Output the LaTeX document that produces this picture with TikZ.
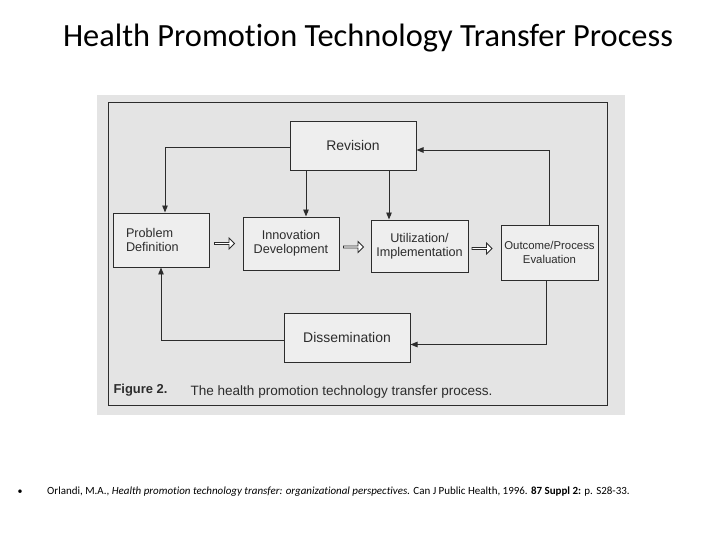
\documentclass[tikz,border=0pt]{standalone}
\usepackage{fontspec}
\setmainfont{Carlito}[Ligatures={NoCommon}]
\newfontfamily\arialf{Liberation Sans}
\usetikzlibrary{shapes.arrows,arrows.meta,calc}
\definecolor{scan}{HTML}{E4E4E4}
\definecolor{boxfill}{HTML}{EEEEEE}
\definecolor{ink}{HTML}{2C2C2C}
\begin{document}
\begin{tikzpicture}[x=1bp,y=-1bp,
 box/.style={draw=ink, line width=1pt, fill=boxfill, text=ink, font=\arialf\fontsize{12.7}{14.5}\selectfont, align=center, inner sep=0pt},
 bigbox/.style={box, font=\arialf\fontsize{14}{16}\selectfont},
 link/.style={draw=ink, line width=1pt, -{Triangle[length=7bp,width=5.5bp]}},
 hollow/.style={single arrow, draw=ink, line width=0.8pt, fill=white, minimum height=20bp, minimum width=11bp, single arrow head extend=2bp, inner sep=0pt},
]
\useasboundingbox (0,0) rectangle (720,540);
\fill[white] (0,0) rectangle (720,540);
\fill[scan] (97,95) rectangle (625,415);
\draw[ink, line width=1pt] (108,103) rectangle (607,405);

\node[font=\fontsize{32.5}{36}\selectfont] (title) at (368,38) {Health Promotion Technology Transfer Process};

\node[bigbox, minimum width=126bp, minimum height=48bp] (rev) at (353,146) {Revision};
\node[box, text width=70bp, inner xsep=13bp, minimum height=54bp, align=left] (prob) at (161,240) {Problem\\Definition};
\node[box, minimum width=96bp, minimum height=53bp] (inno) at (291,243.5) {Innovation\\Development};
\node[box, minimum width=97bp, minimum height=52bp] (util) at (419.5,246) {Utilization/\\Implementation};
\node[box, minimum width=97bp, minimum height=55bp, font=\arialf\fontsize{11.4}{14}\selectfont] (outc) at (549.5,252.5) {Outcome/Process\\Evaluation};
\node[bigbox, minimum width=126bp, minimum height=49bp] (dis) at (347,337.5) {Dissemination};

\node[hollow] (h1) at (224,243.5) {};
\node[hollow] (h2) at (353,247) {};
\node[hollow] (h3) at (481.5,248.5) {};

\coordinate (r1) at ($(rev.south)+(-47,0)$);
\coordinate (r2) at ($(rev.south)+(36,0)$);
\draw[link] ($(rev.west)+(0,1)$) -| ($(prob.north)+(4,0)$);
\draw[link] (r1) -- (r1 |- inno.north);
\draw[link] (r2) -- (r2 |- util.north);
\draw[link] (outc.north) |- ($(rev.east)+(0,4)$);
\draw[link] ($(outc.south)+(-3,0)$) |- ($(dis.east)+(0,7)$);
\draw[link] ($(dis.west)+(0,3)$) -| (prob.south);

\node[anchor=base west, text=ink, font=\arialf\bfseries\fontsize{13}{15}\selectfont] (fig) at (110,393) {Figure 2.};
\node[anchor=base west, text=ink, font=\arialf\fontsize{13.6}{15}\selectfont] (cap) at (187,395) {The health promotion technology transfer process.};

\node[font=\fontsize{10}{11}\selectfont] (bul) at (20,492) {\textbullet};
\node[anchor=west, inner sep=0pt, font=\fontsize{11}{12}\selectfont] (cite) at (47,492) {Orlandi, M.A., \textit{Health promotion technology transfer: organizational perspectives.} Can J Public Health, 1996. \textbf{87 Suppl 2:} p. S28-33.};
\end{tikzpicture}
\end{document}
